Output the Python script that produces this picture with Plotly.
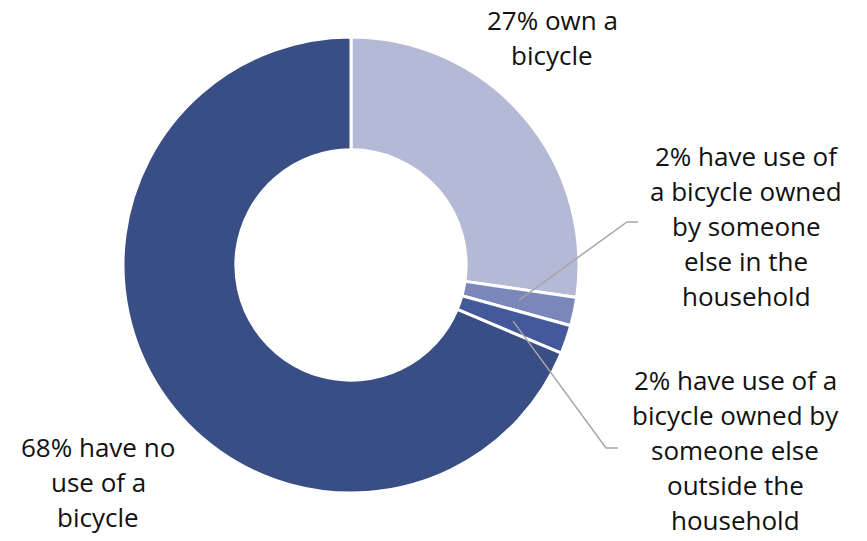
import math
import plotly.graph_objects as go

# Bicycle access shares (percent of respondents)
categories = [
    "Own a bicycle",
    "Use of a bicycle owned by someone else in the household",
    "Use of a bicycle owned by someone else outside the household",
    "No use of a bicycle",
]
shares = [27, 2, 2, 68]
colors = ["#b4b9d6", "#7b86ba", "#43599b", "#384e84"]

label_lines = [
    ["27% own a", "bicycle"],
    ["2% have use of", "a bicycle owned", "by someone", "else in the", "household"],
    ["2% have use of a", "bicycle owned by", "someone else", "outside the", "household"],
    ["68% have no", "use of a", "bicycle"],
]

# Page geometry (pixels)
W, H = 867, 541
CX, CY, R_OUT = 351, 265, 228
HOLE = 0.505

# Label block placement: (x centre, y centre of first line) in pixels
label_pos = [(552, 20), (746, 156), (735, 380), (98, 447)]
LINE_STEP = 35
FONT_SIZE = 26

# Leader line elbows for the two thin slices: (elbow x, elbow y, end x)
leaders = {1: (627, 222, 638), 2: (606, 448, 618)}


def px(x):
    return x / W


def py(y):
    return 1 - y / H


fig = go.Figure(
    go.Pie(
        labels=categories,
        values=shares,
        sort=False,
        direction="clockwise",
        rotation=0,
        hole=HOLE,
        marker=dict(colors=colors, line=dict(color="white", width=3)),
        textinfo="none",
        hoverinfo="label+percent",
        domain=dict(
            x=[px(CX - R_OUT), px(CX + R_OUT)],
            y=[py(CY + R_OUT), py(CY - R_OUT)],
        ),
    )
)

annotations = []
for (x0, y0), lines in zip(label_pos, label_lines):
    for i, line in enumerate(lines):
        annotations.append(
            dict(
                x=px(x0), y=py(y0 + i * LINE_STEP), xref="paper", yref="paper",
                text=line, showarrow=False, xanchor="center", yanchor="middle",
                font=dict(family="Open Sans", size=FONT_SIZE, color="#111111"),
            )
        )

# Leader lines start at the middle of each thin slice, halfway through the ring
total = sum(shares)
shapes = []
cum = 0
for idx, v in enumerate(shares):
    mid = (cum + v / 2) / total * 2 * math.pi
    cum += v
    if idx not in leaders:
        continue
    r_mid = R_OUT * (1 + HOLE) / 2
    sx = CX + r_mid * math.sin(mid)
    sy = CY - r_mid * math.cos(mid)
    ex, ey, tx = leaders[idx]
    path = f"M {px(sx)} {py(sy)} L {px(ex)} {py(ey)} L {px(tx)} {py(ey)}"
    shapes.append(
        dict(type="path", xref="paper", yref="paper", path=path,
             line=dict(color="#a6a6a6", width=1.5))
    )

fig.update_layout(
    width=W, height=H,
    margin=dict(l=0, r=0, t=0, b=0),
    paper_bgcolor="white", plot_bgcolor="white",
    showlegend=False,
    annotations=annotations,
    shapes=shapes,
)

fig.write_html("out.html")
